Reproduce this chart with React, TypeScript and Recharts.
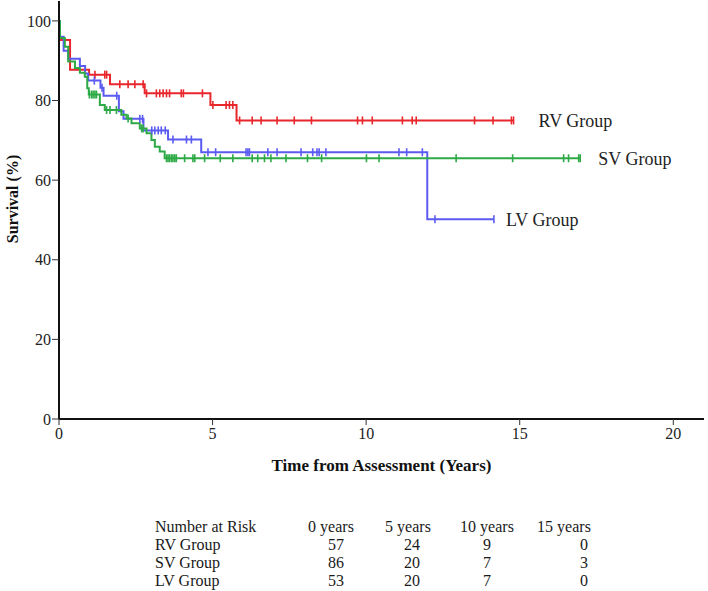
import React from 'react';
import { LineChart, Line, XAxis, YAxis, ReferenceDot } from 'recharts';

// ---- Kaplan-Meier step data (time in years, survival %) ----
const rvStepTimes = [0, 0.03, 0.36, 0.98, 1.66, 2.79, 4.93, 5.78];
const rvStepValues = [100, 95.2, 87.7, 86.5, 84.1, 81.8, 78.9, 75.0];
const rvCensorTimes = [1.17, 1.49, 1.55, 1.98, 2.25, 2.47, 2.74, 2.85, 3.17, 3.28, 3.39, 3.5, 3.6, 3.98, 4.05, 4.67, 5.01, 5.44, 5.55, 5.66, 5.88, 6.29, 6.58, 7.1, 7.66, 8.22, 9.72, 9.88, 10.2, 11.18, 11.5, 11.63, 13.53, 14.13, 14.73, 14.8];

const svStepTimes = [0, 0.03, 0.19, 0.3, 0.52, 0.68, 0.84, 0.92, 0.97, 1.33, 1.49, 2.03, 2.2, 2.36, 2.63, 2.85, 3.01, 3.12, 3.28, 3.44];
const svStepValues = [100, 95.7, 93.5, 89.8, 88.2, 87.0, 86.0, 83.1, 81.5, 78.9, 77.6, 76.4, 75.5, 74.3, 73.0, 71.8, 70.1, 68.4, 67.2, 65.5];
const svCensorTimes = [0.99, 1.06, 1.11, 1.17, 1.22, 1.55, 1.66, 1.87, 2.25, 2.69, 2.74, 3.5, 3.55, 3.6, 3.66, 3.71, 3.77, 3.82, 4.09, 4.36, 4.42, 4.74, 5.25, 5.66, 6.29, 6.47, 6.69, 6.9, 7.39, 8.09, 8.55, 10.01, 10.42, 12.93, 14.77, 16.43, 16.59, 16.92, 16.97];

const lvStepTimes = [0, 0.03, 0.15, 0.3, 0.68, 0.85, 0.95, 1.35, 1.45, 1.95, 2.1, 2.75, 3.55, 4.63, 11.99];
const lvStepValues = [100, 96.0, 92.5, 90.5, 88.7, 86.8, 85.0, 83.2, 81.2, 77.3, 75.4, 72.5, 70.2, 67.0, 50.2];
const lvCensorTimes = [1.15, 1.4, 1.88, 2.63, 2.72, 3.02, 3.12, 3.23, 3.33, 3.46, 3.71, 4.15, 4.31, 4.85, 5.1, 6.09, 6.15, 6.2, 6.8, 7.1, 7.88, 8.26, 8.4, 8.47, 8.69, 11.07, 11.32, 11.83, 12.24, 14.16];

const groupNames = ['RV Group', 'SV Group', 'LV Group'];
const groupColors = ['#e8262c', '#2daa46', '#5b5bf2'];

// ---- Number at risk table ----
const riskHeaders = ['0 years', '5 years', '10 years', '15 years'];
const rvRisk = [57, 24, 9, 0];
const svRisk = [86, 20, 7, 3];
const lvRisk = [53, 20, 7, 0];

const xTicks = [0, 5, 10, 15, 20];
const yTicks = [0, 20, 40, 60, 80, 100];

type Pt = { t: number; s: number; c: boolean };

function build(times: number[], values: number[], censors: number[]): Pt[] {
  const pts: Pt[] = times.map((t, i) => ({ t, s: values[i], c: false }));
  censors.forEach((t) => {
    let s = values[0];
    for (let i = 0; i < times.length; i++) if (times[i] <= t) s = values[i];
    pts.push({ t, s, c: true });
  });
  pts.sort((a, b) => a.t - b.t || (a.c ? 1 : -1));
  return pts;
}

const rvData = build(rvStepTimes, rvStepValues, rvCensorTimes);
const svData = build(svStepTimes, svStepValues, svCensorTimes);
const lvData = build(lvStepTimes, lvStepValues, lvCensorTimes);

const font = '"Liberation Serif", "Times New Roman", serif';

const censorDot = (color: string) => (props: any) => {
  const { cx, cy, payload, index } = props;
  if (!payload || !payload.c) return <g key={`n${index}`} />;
  return (
    <line key={`c${index}`} x1={cx} x2={cx} y1={cy - 4} y2={cy + 4} stroke={color} strokeWidth={1.6} />
  );
};

export default function App() {
  const rows = [rvRisk, svRisk, lvRisk];
  const headerCenters = [331, 408, 487, 564];
  const valueCenters = [336, 412, 487, 584];
  const rowCenters = [545, 563, 581];
  const half = 9;
  return (
    <div style={{ position: 'absolute', left: 0, top: 0, width: 708, height: 591, background: '#fff', fontFamily: font }}>
      <LineChart width={708} height={480} margin={{ top: 1, right: 4, left: 9, bottom: 11 }}>
        <XAxis
          type="number"
          dataKey="t"
          domain={[0, 21]}
          ticks={xTicks}
          allowDataOverflow
          axisLine={{ stroke: '#111', strokeWidth: 2 }}
          tickLine={{ stroke: '#333', strokeWidth: 1 }}
          tickSize={6}
          tickMargin={3}
          height={50}
          tick={{ fill: '#222', fontSize: 16, fontFamily: font }}
          label={{
            content: (p: any) => {
              const vb = p.viewBox || {};
              return (
                <text x={vb.x + vb.width / 2} y={471} textAnchor="middle" fontFamily={font} fontWeight="bold" fontSize={17} fill="#111">
                  Time from Assessment (Years)
                </text>
              );
            },
          }}
        />
        <YAxis
          type="number"
          domain={[0, 105]}
          ticks={yTicks}
          allowDataOverflow
          width={50}
          axisLine={{ stroke: '#111', strokeWidth: 2 }}
          tickLine={{ stroke: '#333', strokeWidth: 1 }}
          tickSize={7}
          tickMargin={1}
          tick={{ fill: '#222', fontSize: 16, fontFamily: font }}
          label={{
            content: () => (
              <text x={18} y={199} transform="rotate(-90 18 199)" textAnchor="middle" fontFamily={font} fontWeight="bold" fontSize={16} fill="#111">
                Survival (%)
              </text>
            ),
          }}
        />
        <Line data={rvData} dataKey="s" type="stepAfter" stroke={groupColors[0]} strokeWidth={2} dot={censorDot(groupColors[0])} activeDot={false} isAnimationActive={false} />
        <Line data={lvData} dataKey="s" type="stepAfter" stroke={groupColors[2]} strokeWidth={2} dot={censorDot(groupColors[2])} activeDot={false} isAnimationActive={false} />
        <Line data={svData} dataKey="s" type="stepAfter" stroke={groupColors[1]} strokeWidth={2} dot={censorDot(groupColors[1])} activeDot={false} isAnimationActive={false} />
        <ReferenceDot x={14.8} y={75} r={1} fill="none" stroke="none" label={{ value: groupNames[0], position: 'right', offset: 24, fontSize: 18, fontFamily: font, fill: '#222' }} />
        <ReferenceDot x={16.97} y={65.5} r={1} fill="none" stroke="none" label={{ value: groupNames[1], position: 'right', offset: 17, fontSize: 18, fontFamily: font, fill: '#222' }} />
        <ReferenceDot x={14.16} y={50.2} r={1} fill="none" stroke="none" label={{ value: groupNames[2], position: 'right', offset: 11, fontSize: 18, fontFamily: font, fill: '#222' }} />
      </LineChart>
      <div style={{ position: 'absolute', left: 0, top: 0, width: 708, height: 591, fontSize: 16, color: '#1a1a1a', lineHeight: '18px', whiteSpace: 'nowrap' }}>
        <span style={{ position: 'absolute', left: 155, top: 527 - half }}>Number at Risk</span>
        {riskHeaders.map((h, i) => (
          <span key={h} style={{ position: 'absolute', left: headerCenters[i], top: 527 - half, transform: 'translateX(-50%)' }}>{h}</span>
        ))}
        {rows.map((r, ri) => (
          <React.Fragment key={ri}>
            <span style={{ position: 'absolute', left: 155, top: rowCenters[ri] - half }}>{groupNames[ri]}</span>
            {r.map((v, ci) => (
              <span key={ci} style={{ position: 'absolute', left: valueCenters[ci], top: rowCenters[ri] - half, transform: 'translateX(-50%)' }}>{v}</span>
            ))}
          </React.Fragment>
        ))}
      </div>
    </div>
  );
}
